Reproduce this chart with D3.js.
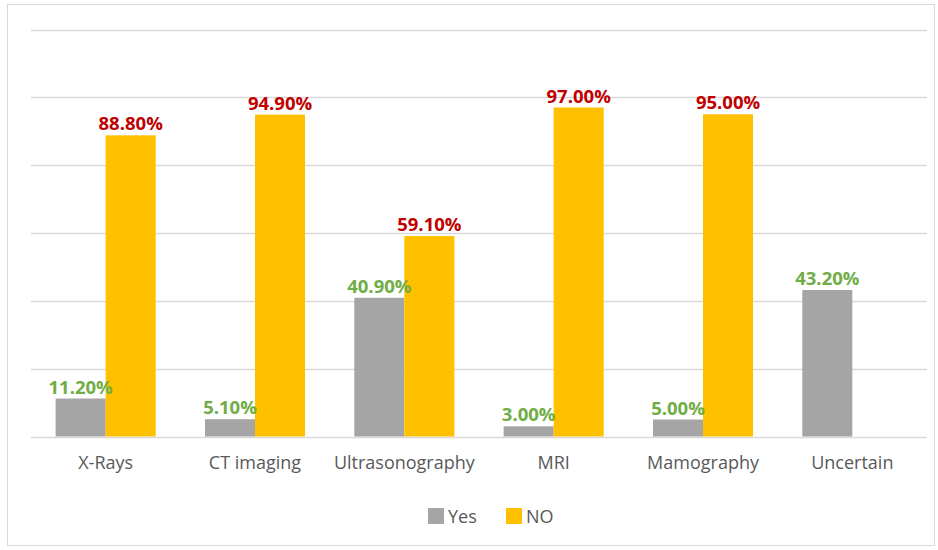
<!DOCTYPE html>
<html><head><meta charset="utf-8">
<script src="https://cdn.jsdelivr.net/npm/d3@7"></script>
<style>body{margin:0;background:#fff}svg{display:block}</style>
</head><body>
<svg id="c" width="938" height="550"></svg>
<script>
const categories = ["X-Rays","CT imaging","Ultrasonography","MRI","Mamography","Uncertain"];
const seriesNames = ["Yes","NO"];
const yesValues = [11.2, 5.1, 40.9, 3.0, 5.0, 43.2];
const noValues = [88.8, 94.9, 59.1, 97.0, 95.0, null];
const yTicks = [0,20,40,60,80,100,120];

const colors = {Yes:"#A5A5A5", NO:"#FFC000"};
const labelColors = {Yes:"#70AD47", NO:"#C00000"};
const font = "'Open Sans', 'Noto Sans', sans-serif";

const svg = d3.select("#c");
const plotLeft = 31, plotRight = 927, plotTop = 29.5, plotBottom = 436.5;

svg.append("rect").attr("x",7.5).attr("y",4.5).attr("width",927).attr("height",541)
  .attr("fill","#fff").attr("stroke","#d9d9d9").attr("stroke-width",1);

const x0 = d3.scaleBand().domain(categories).range([plotLeft,plotRight]).paddingInner(0.33).paddingOuter(0.165);
const x1 = d3.scaleBand().domain(seriesNames).range([0,x0.bandwidth()]);
const y = d3.scaleLinear().domain([0,120]).range([plotBottom,plotTop]);

svg.append("g").selectAll("line").data(yTicks).join("line")
  .attr("x1",plotLeft).attr("x2",plotRight)
  .attr("y1",d=>Math.round(y(d))+0.5).attr("y2",d=>Math.round(y(d))+0.5)
  .attr("stroke","#d9d9d9").attr("stroke-width",1.5);

const rows = categories.map((c,i)=>({cat:c, vals:[{s:"Yes",v:yesValues[i]},{s:"NO",v:noValues[i]}]}));

const g = svg.append("g").selectAll("g").data(rows).join("g")
  .attr("transform",d=>`translate(${x0(d.cat)},0)`);

g.selectAll("rect").data(d=>d.vals.filter(e=>e.v!=null)).join("rect")
  .attr("x",d=>x1(d.s)).attr("width",x1.bandwidth())
  .attr("y",d=>y(d.v)).attr("height",d=>y(0)-y(d.v))
  .attr("fill",d=>colors[d.s]);

g.selectAll("text").data(d=>d.vals.filter(e=>e.v!=null)).join("text")
  .attr("x",d=>x1(d.s)+x1.bandwidth()/2).attr("y",d=>y(d.v)-5)
  .attr("text-anchor","middle").attr("font-family",font).attr("font-weight","bold")
  .attr("font-size",18.5).attr("fill",d=>labelColors[d.s])
  .text(d=>d.v.toFixed(2)+"%");

const xAxis = svg.append("g").attr("transform",`translate(0,${plotBottom})`)
  .call(d3.axisBottom(x0).tickSize(0).tickPadding(20));
xAxis.select(".domain").remove();
xAxis.selectAll("text").attr("font-family",font).attr("font-size",18).attr("fill","#595959");

const legend = svg.append("g");
const legendItems = [{s:"Yes",x:428},{s:"NO",x:506}];
const lg = legend.selectAll("g").data(legendItems).join("g")
  .attr("transform",d=>`translate(${d.x},508)`);
lg.append("rect").attr("width",16).attr("height",16).attr("fill",d=>colors[d.s]);
lg.append("text").attr("x",20).attr("y",15).attr("font-family",font).attr("font-size",18)
  .attr("fill","#595959").text(d=>d.s);
</script>
</body></html>
